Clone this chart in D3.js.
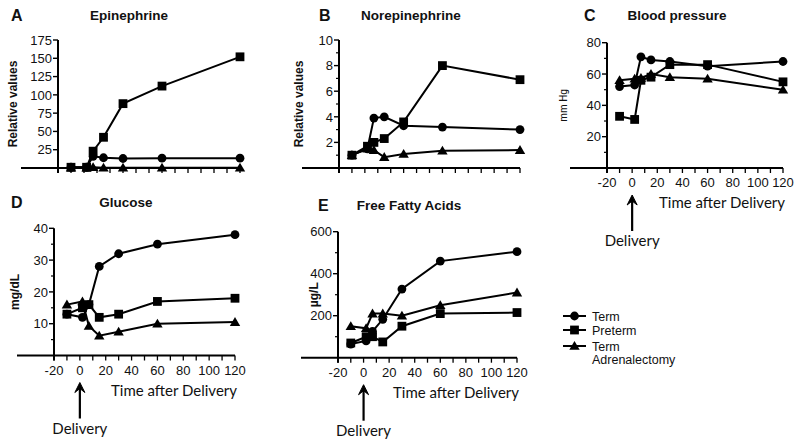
<!DOCTYPE html>
<html><head><meta charset="utf-8">
<script src="https://cdn.jsdelivr.net/npm/d3@7"></script>
<style>
body{margin:0;background:#fff;}
svg{display:block;}
text{fill:#111;}
</style></head>
<body>
<svg id="c" width="800" height="445"></svg>
<script>
// ---- data ----
const times = [-10, 2, 7, 15, 30, 60, 120];
const seriesNames = ["Term", "Preterm", "Term Adrenalectomy"];
const xTickValues = [-20, 0, 20, 40, 60, 80, 100, 120];

const epiTerm     = [1, 1, 16, 14, 13, 13.5, 13.5];
const epiPreterm  = [1, 1, 23, 42, 88, 112, 152];
const epiAdx      = [0.5, 0.5, 1, 0.5, 0.5, 0.5, 0.5];

const norTerm     = [1.0, 1.5, 3.9, 4.0, 3.3, 3.2, 3.0];
const norPreterm  = [1.0, 1.7, 2.0, 2.3, 3.6, 8.0, 6.9];
const norAdx      = [1.0, 1.5, 1.4, 0.85, 1.1, 1.35, 1.4];

const bpTerm      = [52, 53, 71, 69, 68, 65, 68];
const bpPreterm   = [33, 31, 56, 58, 66, 66, 55];
const bpAdx       = [56, 57, 57.5, 60, 58, 57, 50];

const gluTerm     = [13, 12, 16, 28, 32, 35, 38];
const gluPreterm  = [13, 15, 16, 12, 13, 17, 18];
const gluAdx      = [16, 17, 9.3, 6.2, 7.5, 10, 10.5];

const ffaTerm     = [65, 80, 125, 183, 327, 460, 505];
const ffaPreterm  = [70, 100, 100, 75, 150, 210, 215];
const ffaAdx      = [150, 140, 210, 210, 200, 250, 310];

const epiTicks = [25, 50, 75, 100, 125, 150, 175];
const norTicks = [2, 4, 6, 8, 10];
const bpTicks  = [20, 40, 60, 80];
const gluTicks = [10, 20, 30, 40];
const ffaTicks = [200, 400, 600];

// ---- font selection (first installed font from a list) ----
function pickFont(list) {
  const c = document.createElement("canvas").getContext("2d");
  const s = "mmmmmmwwwwwlli1234567890Relative";
  for (const f of list) {
    let ok = false;
    for (const fb of ["monospace","serif"]) {
      c.font = `40px ${fb}`; const w0 = c.measureText(s).width;
      c.font = `40px "${f}", ${fb}`; const w1 = c.measureText(s).width;
      if (Math.abs(w1 - w0) > 0.5) ok = true;
    }
    if (ok) return `"${f}"`;
  }
  return "sans-serif";
}
const SANS = pickFont(["Liberation Sans","Arial","Helvetica","Roboto","Inter"]);
const NARROW = pickFont(["Liberation Sans Narrow","Arial Narrow","Roboto Condensed","Liberation Sans","Roboto"]);
const CAL = pickFont(["Lato","Open Sans","Noto Sans"]);

// ---- layout ----
const svg = d3.select("#c");
const panels = [
  {letter:"A", title:"Epinephrine", ylabel:"Relative values", data:[epiTerm,epiPreterm,epiAdx],
   ymax:175, ticks:epiTicks, minor:null, xr:[58,240], yr:[168,40], xlabels:false,
   letterX:11, titleX:129, titleY:21, ylabX:17, narrow:false},
  {letter:"B", title:"Norepinephrine", ylabel:"Relative values", data:[norTerm,norPreterm,norAdx],
   ymax:10, ticks:norTicks, minor:1, xr:[339,520], yr:[168,40], xlabels:false,
   letterX:319, titleX:411, titleY:21, ylabX:303, narrow:false},
  {letter:"C", title:"Blood pressure", ylabel:"mm Hg", data:[bpTerm,bpPreterm,bpAdx],
   ymax:80, ticks:bpTicks, minor:10, xr:[607,783], yr:[168,42.7], xlabels:true,
   letterX:584, titleX:677, titleY:21, ylabX:567, narrow:true},
  {letter:"D", title:"Glucose", ylabel:"mg/dL", data:[gluTerm,gluPreterm,gluAdx],
   ymax:40, ticks:gluTicks, minor:5, xr:[54,235], yr:[355.5,228.3], xlabels:true,
   letterX:11, titleX:126, titleY:208, ylabX:19, narrow:false},
  {letter:"E", title:"Free Fatty Acids", ylabel:"\u00b5g/L", data:[ffaTerm,ffaPreterm,ffaAdx],
   ymax:600, ticks:ffaTicks, minor:100, xr:[338,517], yr:[357.7,231.7], xlabels:true,
   letterX:318, titleX:409, titleY:211, ylabX:318, narrow:false}
];

function marker(g, kind, x, y) {
  if (kind === 0) g.append("circle").attr("cx",x).attr("cy",y).attr("r",4.4).attr("fill","#000");
  else if (kind === 1) g.append("rect").attr("x",x-4.4).attr("y",y-4.4).attr("width",8.8).attr("height",8.8).attr("fill","#000");
  else g.append("path").attr("d",`M${x},${y-5}L${x+5.2},${y+3.8}L${x-5.2},${y+3.8}Z`).attr("fill","#000");
}
function txt(g, family, size, weight) {
  return g.append("text").style("font-family", family).style("font-size", size + "px").style("font-weight", weight || "normal");
}

panels.forEach(p => {
  const x = d3.scaleLinear().domain([-20,120]).range(p.xr);
  const y = d3.scaleLinear().domain([0,p.ymax]).range(p.yr);
  const g = svg.append("g");
  const base = y(0), x0 = x(-20);

  g.append("line").attr("x1",x0-37).attr("x2",x(120)).attr("y1",base).attr("y2",base)
    .attr("stroke","#000").attr("stroke-width",2);
  const xt = d3.range(-20,121,10);
  g.selectAll(null).data(xt).enter().append("line")
    .attr("x1",d=>x(d)).attr("x2",d=>x(d)).attr("y1",base).attr("y2",base+5)
    .attr("stroke","#000").attr("stroke-width",1.3);
  if (p.xlabels) {
    xTickValues.forEach(d => txt(g, SANS, 13).attr("x",x(d)).attr("y",base+19).attr("text-anchor","middle").text(d));
    txt(g, CAL, 15).attr("x",x(120)+2).attr("y",base+40).attr("text-anchor","end").text("Time after Delivery");
    const ax = x(0);
    g.append("line").attr("x1",ax).attr("x2",ax).attr("y1",base+63).attr("y2",base+32).attr("stroke","#000").attr("stroke-width",2.2);
    g.append("path").attr("d",`M${ax-5},${base+37}L${ax},${base+27}L${ax+5},${base+37}L${ax},${base+33}Z`).attr("fill","#000").attr("stroke","#000").attr("stroke-width",1);
    txt(g, CAL, 15).attr("x",ax).attr("y",base+78).attr("text-anchor","middle").text("Delivery");
  }
  g.append("line").attr("x1",x0).attr("x2",x0).attr("y1",y(p.ymax)).attr("y2",base+5)
    .attr("stroke","#000").attr("stroke-width",2);
  if (p.minor) {
    const mt = d3.range(p.minor, p.ymax, p.minor).filter(v => !p.ticks.includes(v));
    g.selectAll(null).data(mt).enter().append("line")
      .attr("x1",x0-3).attr("x2",x0).attr("y1",d=>y(d)).attr("y2",d=>y(d)).attr("stroke","#000").attr("stroke-width",1.2);
  }
  g.selectAll(null).data(p.ticks).enter().append("line")
    .attr("x1",x0-5).attr("x2",x0).attr("y1",d=>y(d)).attr("y2",d=>y(d)).attr("stroke","#000").attr("stroke-width",1.4);
  p.ticks.forEach(d => txt(g, SANS, 13).attr("x",x0-6).attr("y",y(d)+4.7).attr("text-anchor","end").text(d));

  txt(g, SANS, 16, "bold").attr("x",p.letterX).attr("y",p.titleY).text(p.letter);
  txt(g, SANS, 13.5, "bold").attr("x",p.titleX).attr("y",p.titleY-1).attr("text-anchor","middle").text(p.title);
  const yc = (y(p.ymax)+base)/2;
  const yl = p.narrow ? txt(g, NARROW, 11.5) : txt(g, SANS, 12, "bold");
  yl.attr("transform",`translate(${p.ylabX},${yc}) rotate(-90)`).attr("text-anchor","middle").text(p.ylabel);

  const line = d3.line().x((d,i)=>x(times[i])).y(d=>y(d));
  p.data.forEach(vals => {
    g.append("path").attr("d",line(vals)).attr("fill","none").attr("stroke","#000").attr("stroke-width",2);
  });
  p.data.forEach((vals,k) => {
    vals.forEach((v,i) => marker(g,k,x(times[i]),y(v)));
  });
});

// legend
const lg = svg.append("g");
const legY = [316, 330, 346];
seriesNames.forEach((s,k) => {
  const yy = legY[k];
  lg.append("line").attr("x1",563).attr("x2",586).attr("y1",yy).attr("y2",yy).attr("stroke","#000").attr("stroke-width",2);
  marker(lg,k,574.5,yy);
  if (k < 2) txt(lg, SANS, 12.5).attr("x",592).attr("y",yy+4.5).text(s);
  else {
    const parts = s.split(" ");
    txt(lg, SANS, 12.5).attr("x",592).attr("y",yy+4.5).text(parts[0]);
    txt(lg, SANS, 12.5).attr("x",592).attr("y",yy+17.5).text(parts[1]);
  }
});
</script>
</body></html>
